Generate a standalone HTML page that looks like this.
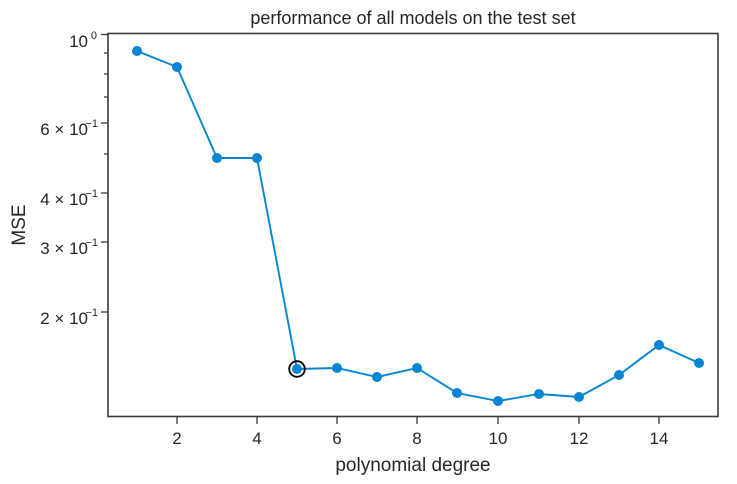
<!DOCTYPE html>
<html><head><meta charset="utf-8"><style>
html,body{margin:0;padding:0;background:#fff;}
svg{display:block;font-family:"Liberation Sans",Arial,sans-serif;}
</style></head><body>
<svg width="737" height="484" viewBox="0 0 737 484" xmlns="http://www.w3.org/2000/svg">
<rect x="0" y="0" width="737" height="484" fill="#fff"/>
<text x="413" y="24" font-size="18" text-anchor="middle" fill="#262626">performance of all models on the test set</text>
<polyline fill="none" stroke="#0585d3" stroke-width="1.9" points="137,51 177,67 217,158 257,158 297,369 337,368 377,377 417,368 457,393 498,401 539,394 579,397 619,375 659,345 699,363"/>
<g fill="#0585d3">
<circle cx="137" cy="51" r="5"/><circle cx="177" cy="67" r="5"/><circle cx="217" cy="158" r="5"/><circle cx="257" cy="158" r="5"/><circle cx="297" cy="369" r="5"/><circle cx="337" cy="368" r="5"/><circle cx="377" cy="377" r="5"/><circle cx="417" cy="368" r="5"/><circle cx="457" cy="393" r="5"/><circle cx="498" cy="401" r="5"/><circle cx="539" cy="394" r="5"/><circle cx="579" cy="397" r="5"/><circle cx="619" cy="375" r="5"/><circle cx="659" cy="345" r="5"/><circle cx="699" cy="363" r="5"/>
</g>
<circle cx="297" cy="369" r="7.8" fill="none" stroke="#000" stroke-width="1.8"/>
<rect x="108" y="33.5" width="610" height="383" fill="none" stroke="#3a3a3a" stroke-width="1.6"/>
<g stroke="#3a3a3a" stroke-width="1.3">
<line x1="101" y1="34.5" x2="108" y2="34.5"/>
<line x1="101" y1="123" x2="108" y2="123"/>
<line x1="101" y1="193" x2="108" y2="193"/>
<line x1="101" y1="242" x2="108" y2="242"/>
<line x1="101" y1="312" x2="108" y2="312"/>
<line x1="104" y1="53" x2="108" y2="53"/>
<line x1="104" y1="74" x2="108" y2="74"/>
<line x1="104" y1="97" x2="108" y2="97"/>
<line x1="104" y1="154" x2="108" y2="154"/>
<line x1="177" y1="417" x2="177" y2="424"/>
<line x1="257" y1="417" x2="257" y2="424"/>
<line x1="337" y1="417" x2="337" y2="424"/>
<line x1="417" y1="417" x2="417" y2="424"/>
<line x1="498" y1="417" x2="498" y2="424"/>
<line x1="579" y1="417" x2="579" y2="424"/>
<line x1="659" y1="417" x2="659" y2="424"/>
</g>
<g font-size="17" fill="#262626" text-anchor="middle">
<text x="177" y="444">2</text><text x="257" y="444">4</text><text x="337" y="444">6</text><text x="417" y="444">8</text><text x="498" y="444">10</text><text x="579" y="444">12</text><text x="659" y="444">14</text>
</g>
<text x="413" y="471" font-size="19" text-anchor="middle" fill="#262626">polynomial degree</text>
<g font-size="17" fill="#262626" text-anchor="end">
<text x="88" y="47">10</text><text x="97" y="39" font-size="11">0</text>
<text x="88" y="135">6 × 10</text><text x="98" y="127" font-size="11">−1</text>
<text x="88" y="205">4 × 10</text><text x="98" y="197" font-size="11">−1</text>
<text x="88" y="254">3 × 10</text><text x="98" y="246" font-size="11">−1</text>
<text x="88" y="324">2 × 10</text><text x="98" y="316" font-size="11">−1</text>
</g>
<text transform="translate(25,225) rotate(-90)" font-size="19" text-anchor="middle" fill="#262626">MSE</text>
</svg>
</body></html>
